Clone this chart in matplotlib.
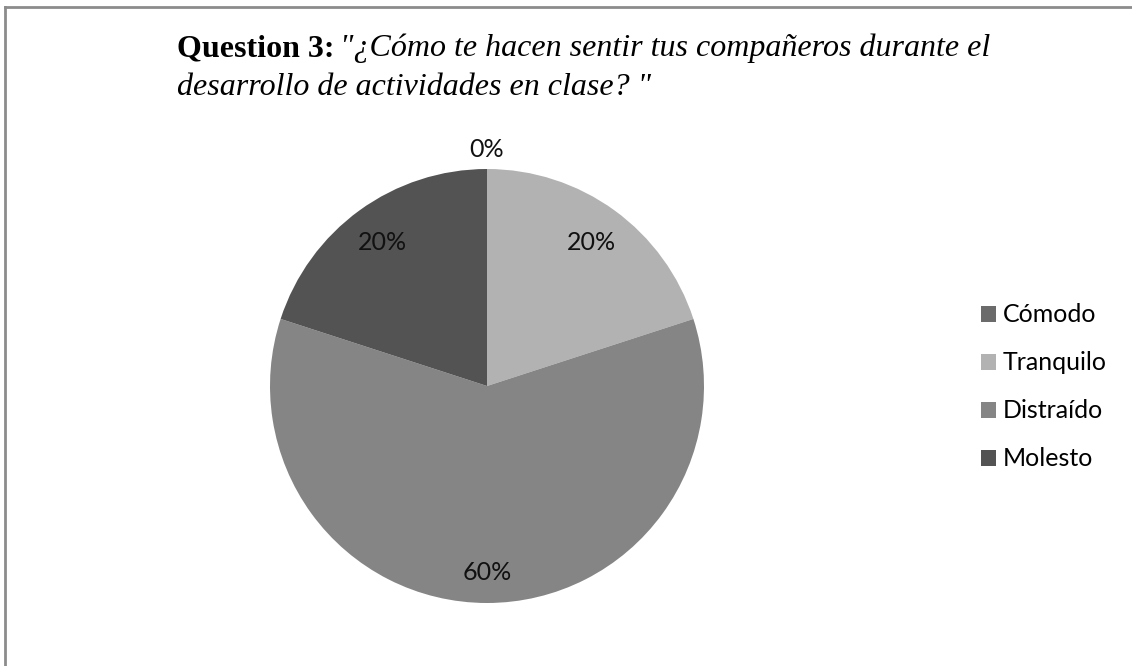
import numpy as np
import matplotlib.pyplot as plt

categories = ['Cómodo', 'Tranquilo', 'Distraído', 'Molesto']
values = [0, 20, 60, 20]
colors = ['#6b6b6b', '#b2b2b2', '#858585', '#535353']

fig = plt.figure(figsize=(11.32, 6.66), dpi=100)
fig.patch.set_facecolor('white')

# frame (only top and left edges visible in the crop)
fig.add_artist(plt.Line2D([5 / 1132, 5 / 1132], [0, 1 - 7 / 666], color='#8c8c8c', lw=2))
fig.add_artist(plt.Line2D([5 / 1132, 1], [1 - 7 / 666, 1 - 7 / 666], color='#8c8c8c', lw=2))

ax = fig.add_axes([(487 - 217) / 1132, (666 - 603) / 666, 434 / 1132, 434 / 666])
wedges, _ = ax.pie(values, colors=colors, startangle=90, counterclock=False,
                   radius=1.0, wedgeprops=dict(linewidth=0))
ax.set_aspect('equal')
ax.set_xlim(-1, 1)
ax.set_ylim(-1, 1)

# percentage labels
for w, v in zip(wedges, values):
    mid = np.deg2rad(((w.theta1 + w.theta2) / 2) % 360)
    if v == 0:
        r = 1.09
    elif v >= 50:
        r = 0.86
    else:
        r = 0.82
    ax.text(r * np.cos(mid), r * np.sin(mid), '%d%%' % v, ha='center', va='center',
            fontsize=18, family='Lato', color='#111111')

# legend
leg = fig.legend(wedges, categories, loc='center left', bbox_to_anchor=(958 / 1132, 1 - 387 / 666),
                 frameon=False, prop={'family': 'Lato', 'size': 18}, handlelength=0.6,
                 handleheight=0.6, handletextpad=0.3, labelspacing=1.0)

# title: bold prefix + italic question
tx, ty1, ty2 = 177 / 1132, 1 - 56 / 666, 1 - 95 / 666
t1 = fig.text(tx, ty1, 'Question 3:', family='Liberation Serif', weight='bold',
              fontsize=23, va='baseline', ha='left')
fig.canvas.draw()
bb = t1.get_window_extent()
fig.text(bb.x1 / fig.bbox.width + 6 / 1132, ty1,
         '"¿Cómo te hacen sentir tus compañeros durante el',
         family='Liberation Serif', style='italic', fontsize=23, va='baseline', ha='left')
fig.text(tx, ty2, 'desarrollo de actividades en clase? "', family='Liberation Serif',
         style='italic', fontsize=23, va='baseline', ha='left')

fig.savefig('out.png', dpi=100)
